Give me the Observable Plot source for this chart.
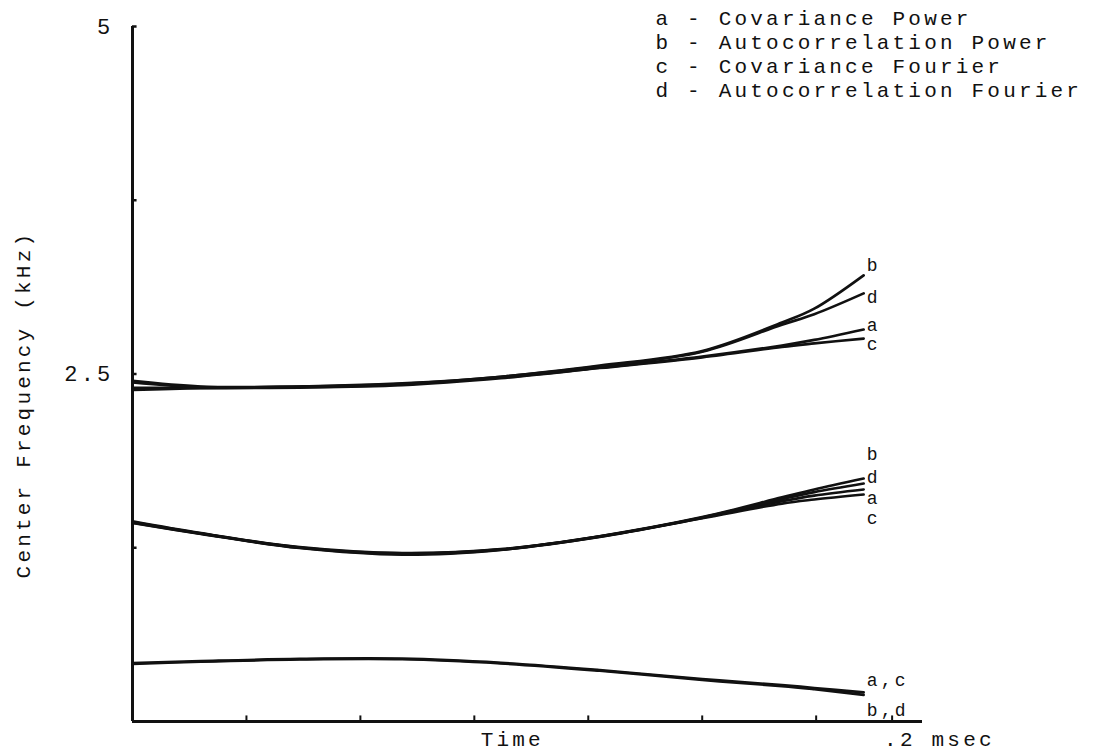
<!DOCTYPE html>
<html>
<head>
<meta charset="utf-8">
<script src="https://cdn.jsdelivr.net/npm/d3@7"></script>
<script src="https://cdn.jsdelivr.net/npm/@observablehq/plot@0.6"></script>
<style>
  html, body { margin: 0; padding: 0; background: #fff; }
  #chart { width: 1094px; height: 755px; }
</style>
</head>
<body>
<div id="chart"></div>
<script>
// ---- data (time in msec, center frequency in kHz) ----
const timeMs = [0, 0.018, 0.044, 0.071, 0.097, 0.123, 0.150, 0.171, 0.1795, 0.1925];

// upper formant group
const upperA = [2.400, 2.400, 2.405, 2.425, 2.475, 2.545, 2.625, 2.705, 2.745, 2.820];
const upperB = [2.450, 2.410, 2.410, 2.432, 2.480, 2.560, 2.665, 2.870, 2.970, 3.210];
const upperC = [2.385, 2.398, 2.402, 2.420, 2.470, 2.543, 2.620, 2.695, 2.720, 2.755];
const upperD = [2.440, 2.405, 2.410, 2.430, 2.480, 2.555, 2.660, 2.855, 2.930, 3.080];

// middle formant group
const middleA = [1.430, 1.352, 1.250, 1.205, 1.236, 1.330, 1.465, 1.585, 1.625, 1.669];
const middleB = [1.440, 1.355, 1.255, 1.212, 1.240, 1.333, 1.470, 1.612, 1.669, 1.748];
const middleC = [1.428, 1.350, 1.248, 1.200, 1.235, 1.328, 1.462, 1.568, 1.597, 1.633];
const middleD = [1.435, 1.353, 1.252, 1.210, 1.238, 1.332, 1.468, 1.600, 1.650, 1.712];

// lower formant group
const lowerAC = [0.420, 0.434, 0.450, 0.452, 0.422, 0.370, 0.305, 0.262, 0.241, 0.210];
const lowerBD = [0.414, 0.430, 0.446, 0.448, 0.418, 0.365, 0.299, 0.255, 0.232, 0.192];

// end-of-line labels (kHz position)
const endLabels = ["b", "d", "a", "c", "b", "d", "a", "c", "a,c", "b,d"];
const endLabelY = [3.281, 3.050, 2.852, 2.716, 1.920, 1.758, 1.608, 1.465, 0.295, 0.079];

// legend
const legendLines = [
  "a - Covariance Power",
  "b - Autocorrelation Power",
  "c - Covariance Fourier",
  "d - Autocorrelation Fourier"
];
const legendY = [5.058, 4.885, 4.712, 4.540];
const legendX = 0.1377;

// axes
const xTicks = [0.03, 0.06, 0.09, 0.12, 0.15, 0.18, 0.2];
const yTicks = [1.25, 2.5, 3.75, 5];
const yTickLabels = [{v: 2.5, t: "2.5"}, {v: 5, t: "5"}];
const xEndLabel = ".2 msec";
const xTitle = "Time";
const yTitle = "Center Frequency (kHz)";

// ---- build table ----
const seriesList = [
  ["upper-a", upperA], ["upper-b", upperB], ["upper-c", upperC], ["upper-d", upperD],
  ["middle-a", middleA], ["middle-b", middleB], ["middle-c", middleC], ["middle-d", middleD],
  ["lower-ac", lowerAC], ["lower-bd", lowerBD]
];
const rows = [];
for (const [key, vals] of seriesList) {
  vals.forEach((v, i) => rows.push({key, t: timeMs[i], f: v}));
}
const tEnd = timeMs[timeMs.length - 1];
const labelRows = endLabels.map((s, i) => ({text: s, t: tEnd, f: endLabelY[i]}));
const legendRows = legendLines.map((s, i) => ({text: s, t: legendX, f: legendY[i]}));

const font = "Liberation Mono, DejaVu Sans Mono, monospace";

const chart = Plot.plot({
  width: 1094,
  height: 755,
  marginLeft: 132,
  marginRight: 172,
  marginTop: 26,
  marginBottom: 34,
  x: {domain: [0, 0.208], axis: null},
  y: {domain: [0, 5], axis: null},
  style: {fontFamily: font, fontSize: "21px", letterSpacing: "3.2px", color: "#111", background: "#fff"},
  marks: [
    Plot.ruleX([0], {y1: 0, y2: 5, stroke: "#111", strokeWidth: 3}),
    Plot.ruleY([0], {x1: 0, x2: 0.208, stroke: "#111", strokeWidth: 3}),
    Plot.ruleX(xTicks, {x: d => d, y1: 0, y2: 0.04, stroke: "#111", strokeWidth: 2}),
    Plot.ruleY(yTicks, {y: d => d, x1: 0, x2: 0.0012, stroke: "#111", strokeWidth: 2.5}),
    Plot.text(yTickLabels, {x: 0, y: "v", text: "t", textAnchor: "end", dx: -19, fill: "#111", fontSize: 22}),
    Plot.text([xTitle], {x: 0.1, y: -0.125, text: d => d, fill: "#111", fontSize: 21}),
    Plot.text([xEndLabel], {x: 0.2, y: -0.13, text: d => d, textAnchor: "start", dx: -8, fill: "#111", fontSize: 21}),
    Plot.text([yTitle], {x: -0.0287, y: 2.28, text: d => d, rotate: -90, fill: "#111", fontSize: 21}),
    Plot.line(rows, {x: "t", y: "f", z: "key", stroke: "#111", strokeWidth: 2.7, curve: "catmull-rom"}),
    Plot.text(labelRows, {x: "t", y: "f", text: "text", textAnchor: "start", dx: 3, fill: "#111", fontSize: 18}),
    Plot.text(legendRows, {x: "t", y: "f", text: "text", textAnchor: "start", fill: "#111", fontSize: 21})
  ]
});
document.getElementById("chart").appendChild(chart);
</script>
</body>
</html>
